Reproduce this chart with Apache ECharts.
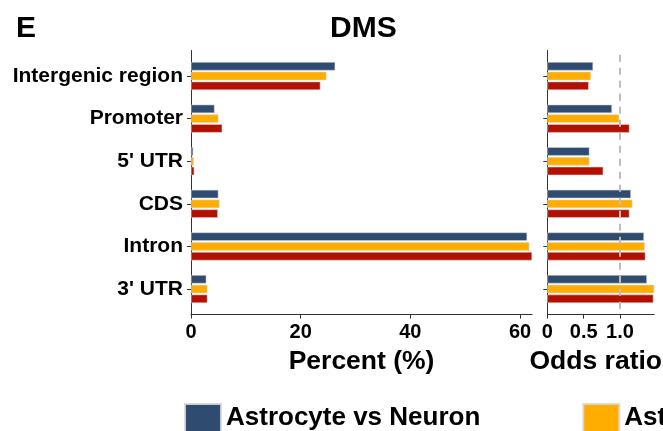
<!DOCTYPE html>
<html>
<head>
<meta charset="utf-8">
<script src="https://cdn.jsdelivr.net/npm/echarts@6/dist/echarts.min.js"></script>
<style>
  html, body { margin: 0; padding: 0; background: #ffffff; }
  #chart { width: 663px; height: 431px; }
</style>
</head>
<body>
<div id="chart"></div>
<script>
// Genomic feature categories (top to bottom)
const categories = ['Intergenic region', 'Promoter', "5' UTR", 'CDS', 'Intron', "3' UTR"];

// Comparison groups
const groupNames = ['Astrocyte vs Neuron', 'Astrocyte vs Oligodendrocyte', 'Neuron vs Oligodendrocyte'];
const groupColors = ['#2F4B6F', '#FFAE00', '#B31000'];

// Percent of DMS falling in each feature
const percentAstroNeuron = [26.3, 4.3, 0.4, 5.0, 61.3, 2.8];
const percentAstroOligo  = [24.7, 5.0, 0.5, 5.2, 61.7, 3.0];
const percentNeuronOligo = [23.6, 5.7, 0.6, 4.9, 62.2, 3.0];

// Odds ratio of enrichment per feature
const oddsAstroNeuron = [0.63, 0.89, 0.58, 1.15, 1.33, 1.37];
const oddsAstroOligo  = [0.60, 0.99, 0.58, 1.17, 1.34, 1.47];
const oddsNeuronOligo = [0.57, 1.13, 0.77, 1.13, 1.35, 1.46];

// Tick values
const percentTicks = [0, 20, 40, 60];
const oddsTicks = [0, 0.5, 1.0];
const oddsReference = 1.0;

const percentSets = [percentAstroNeuron, percentAstroOligo, percentNeuronOligo];
const oddsSets = [oddsAstroNeuron, oddsAstroOligo, oddsNeuronOligo];

const percentMax = Math.max(...percentSets.flat());
const oddsMax = Math.max(...oddsSets.flat());

const FONT = '"Liberation Sans", Arial, Helvetica, sans-serif';
const AXIS_COLOR = '#333333';

// Panel geometry: the discrete axis is padded by 0.6 of a band at each end
const panelTop = 50.5;
const panelHeight = 264.1;
const bandInset = panelHeight * 0.1 / 6.2;
const leftPanel = { left: 191, width: 341.1 };
const rightPanel = { left: 547.3, width: 106.9 };

function frameGrid(p) {
  return { left: p.left, width: p.width, top: panelTop, height: panelHeight, containLabel: false, outerBoundsMode: 'none' };
}
function barGrid(p) {
  return { left: p.left, width: p.width, top: panelTop + bandInset, height: panelHeight - 2 * bandInset, containLabel: false, outerBoundsMode: 'none' };
}

const chart = echarts.init(document.getElementById('chart'), null, { renderer: 'canvas' });

// x axis drawn on the bar grid, pushed down to the frame's bottom edge
function valueXAxis(gridIndex, max, ticks, name, fmt, namePad) {
  return {
    type: 'value', gridIndex, min: 0, max,
    offset: bandInset,
    name, nameLocation: 'middle', nameGap: 37.5 - bandInset,
    nameTextStyle: { fontFamily: FONT, fontWeight: 'bold', fontSize: 26.5, color: '#000', padding: namePad },
    axisLine: { show: true, lineStyle: { color: AXIS_COLOR, width: 1 } },
    axisTick: { show: true, length: 4, customValues: ticks, lineStyle: { color: AXIS_COLOR } },
    axisLabel: {
      show: true, customValues: ticks, margin: 8,
      fontFamily: FONT, fontWeight: 'bold', fontSize: 20, color: '#000',
      formatter: fmt
    },
    splitLine: { show: false }
  };
}

function hiddenXAxis(gridIndex) {
  return { type: 'value', gridIndex, min: 0, max: 1, show: false, splitLine: { show: false } };
}

function frameYAxis(gridIndex) {
  return {
    type: 'value', gridIndex, min: 0, max: 1,
    axisLine: { show: true, lineStyle: { color: AXIS_COLOR, width: 1 } },
    axisTick: { show: false }, axisLabel: { show: false }, splitLine: { show: false }
  };
}

function categoryYAxis(gridIndex, showLabels) {
  return {
    type: 'category', gridIndex, data: categories, inverse: true,
    axisLine: { show: false },
    axisTick: { show: true, alignWithLabel: true, length: 4, lineStyle: { color: AXIS_COLOR } },
    axisLabel: {
      show: showLabels, margin: 8,
      fontFamily: FONT, fontWeight: 'bold', fontSize: 21, color: '#000'
    },
    splitLine: { show: false }
  };
}

function barSeries(sets, xAxisIndex, yAxisIndex, refLine) {
  return sets.map((vals, i) => {
    const s = {
      type: 'bar',
      name: groupNames[i],
      xAxisIndex, yAxisIndex,
      data: vals,
      barWidth: 8.5,
      barGap: '15%',
      itemStyle: { color: groupColors[i], borderColor: 'rgba(215,215,215,0.9)', borderWidth: 0.6 },
      emphasis: { disabled: true },
      animation: false,
      z: 2
    };
    if (refLine !== undefined && i === sets.length - 1) {
      s.markLine = {
        silent: true, symbol: 'none', label: { show: false },
        lineStyle: { color: '#BDBDBD', type: [7, 6], width: 2 },
        data: [{ xAxis: refLine }],
        z: 5
      };
    }
    return s;
  });
}

const option = {
  backgroundColor: '#ffffff',
  animation: false,
  title: [
    { text: 'E', left: 11, top: 9, textStyle: { fontFamily: FONT, fontWeight: 'bold', fontSize: 30, color: '#000' } },
    { text: 'DMS', left: 325, top: 9, textStyle: { fontFamily: FONT, fontWeight: 'bold', fontSize: 30, color: '#000' } }
  ],
  legend: {
    data: groupNames,
    left: 184, top: 403, padding: 0,
    width: 1600,
    orient: 'horizontal',
    itemWidth: 36, itemHeight: 36, itemGap: 102,
    icon: 'rect',
    selectedMode: false,
    formatter: '{t|{name}}',
    textStyle: {
      fontFamily: FONT, fontWeight: 'bold', fontSize: 26, color: '#000',
      rich: {
        t: { fontFamily: FONT, fontWeight: 'bold', fontSize: 26, lineHeight: 26, color: '#000', padding: [0, 0, 8, 0] }
      }
    }
  },
  grid: [frameGrid(leftPanel), barGrid(leftPanel), frameGrid(rightPanel), barGrid(rightPanel)],
  xAxis: [
    hiddenXAxis(0),
    valueXAxis(1, percentMax, percentTicks, 'Percent (%)', v => String(v), 0),
    hiddenXAxis(2),
    valueXAxis(3, oddsMax, oddsTicks, 'Odds ratio', v => (v === 0 ? '0' : v.toFixed(1)), [0, 10, 0, 0])
  ],
  yAxis: [
    frameYAxis(0),
    categoryYAxis(1, true),
    frameYAxis(2),
    categoryYAxis(3, false)
  ],
  series: [
    ...barSeries(percentSets, 1, 1),
    ...barSeries(oddsSets, 3, 3, oddsReference)
  ]
};

chart.setOption(option);
</script>
</body>
</html>
